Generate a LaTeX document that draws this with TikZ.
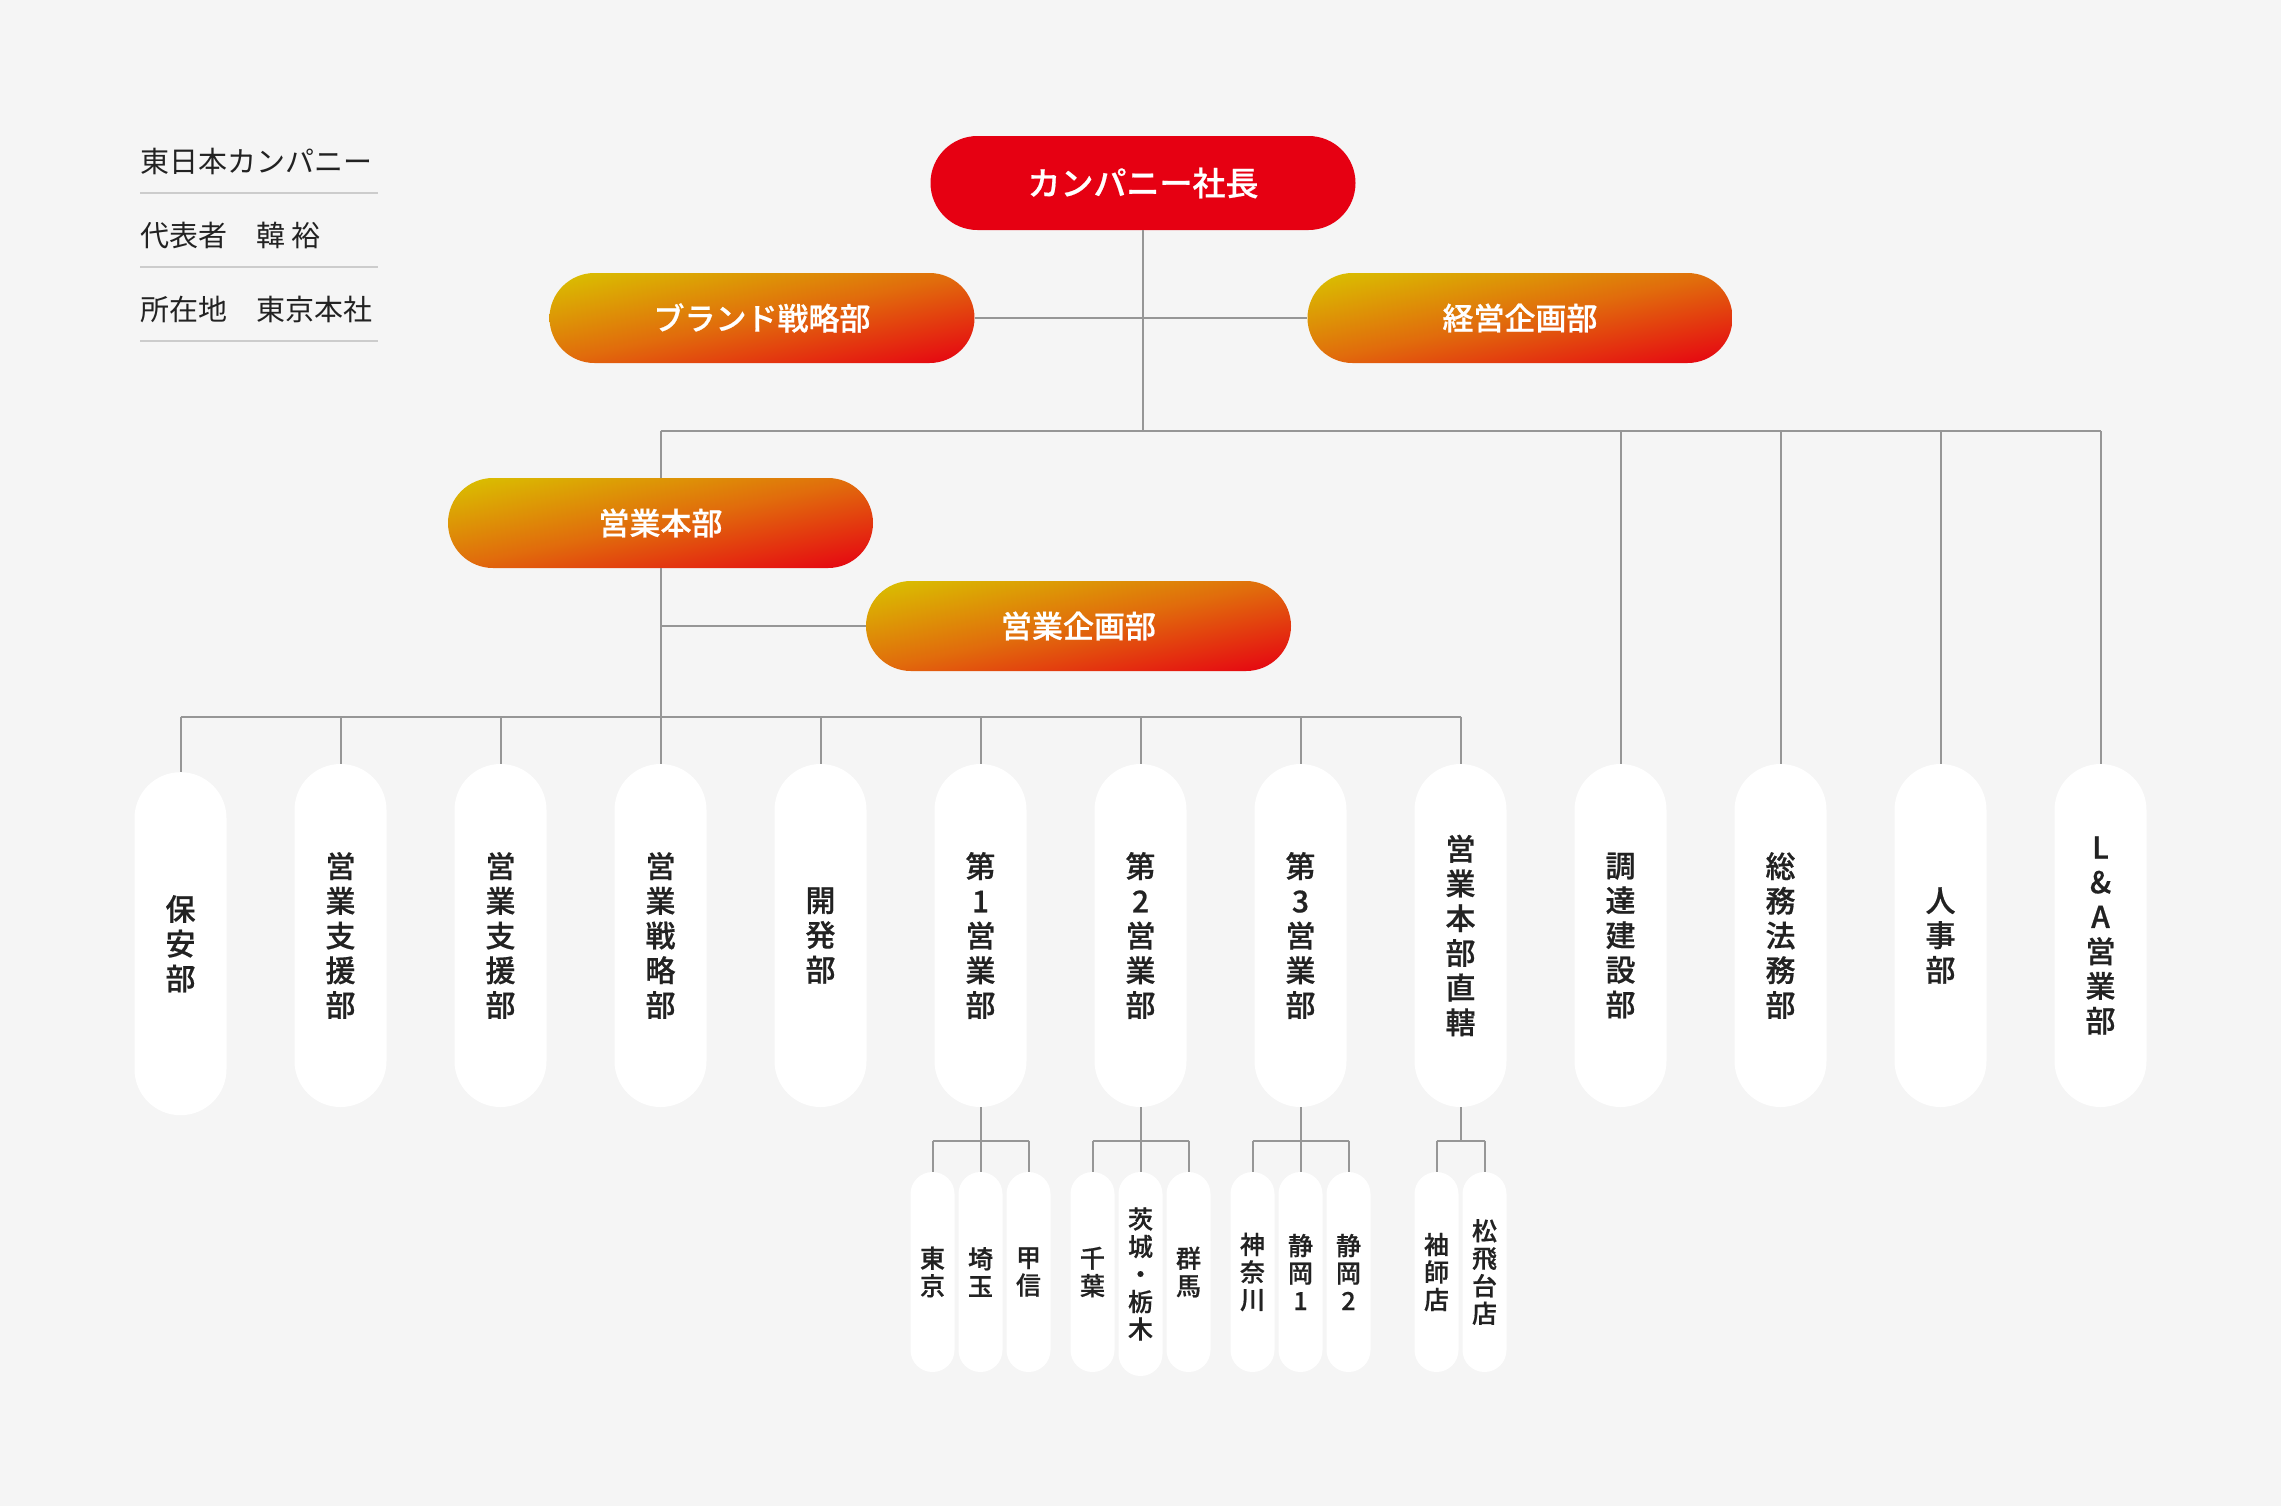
\documentclass[tikz,border=0pt]{standalone}
\usepackage{fontspec}
\newfontfamily\jp{Noto Sans CJK JP}
\IfFontExistsTF{Noto Sans CJK JP Medium}
  {\newfontfamily\jpbold{Noto Sans CJK JP Medium}[FakeBold=0.6]}
  {\newfontfamily\jpbold{Noto Sans CJK JP}[FakeBold=2]}
\definecolor{bg}{HTML}{F5F5F5}
\definecolor{lnc}{HTML}{969696}
\definecolor{rulec}{HTML}{CCCCCC}
\definecolor{txt}{HTML}{222222}
\definecolor{cred}{HTML}{E60012}
% diagonal gradient: yellow (top left) -> orange (anti-diagonal) -> red (bottom right)
\pgfdeclarefunctionalshading{pillgrad}{\pgfpoint{-50bp}{-50bp}}{\pgfpoint{50bp}{50bp}}{}{
  sub 50 add 100 div
  dup 0.5 sub abs
  1 index 0.051 mul 0.8565 add 1 index -0.011 mul add
  2 index -0.765 mul 0.8025 add 2 index -0.075 mul add
  3 index 0.071 mul 0.0115 add 3 index -0.023 mul add
  5 -2 roll pop pop
}
\tikzset{
  toppill/.style={fill=cred, text=white, rounded corners=23.5pt, minimum width=212.5pt, minimum height=47pt, inner sep=0pt, font=\jpbold\fontsize{16.5}{18}\selectfont},
  grpill/.style={shade, shading=pillgrad, draw=none, text=white, rounded corners=22.5pt, minimum width=212.5pt, minimum height=45pt, inner sep=0pt, font=\jpbold\fontsize{15.5}{17}\selectfont},
  vpill/.style={fill=white, text=txt, rounded corners=23pt, minimum width=46pt, minimum height=171.5pt, inner sep=0pt, align=center, font=\jpbold\fontsize{15}{17.35}\selectfont},
  spill/.style={fill=white, text=txt, rounded corners=11pt, minimum width=22pt, minimum height=100pt, inner sep=0pt, align=center, font=\jpbold\fontsize{12.5}{13.75}\selectfont},
  conn/.style={draw=lnc, line width=1pt},
  infotext/.style={anchor=west, inner sep=0pt, text=txt, font=\jp\fontsize{14.5}{16}\selectfont},
  inforule/.style={draw=rulec, line width=1pt}
}
\begin{document}
\begin{tikzpicture}[x=0.5pt, y=-0.5pt]
\fill[bg] (0,0) rectangle (2281,1506);
\useasboundingbox (0,0) rectangle (2281,1506);

% left info
\node[infotext] (i1) at (140,161) {東日本カンパニー};
\node[infotext] (i2) at (140,235) {代表者　韓 裕};
\node[infotext] (i3) at (140,309.5) {所在地　東京本社};
\draw[inforule] (140,192.7) -- (378,192.7);
\draw[inforule] (140,266.7) -- (378,266.7);
\draw[inforule] (140,340.7) -- (378,340.7);

% bus coordinates
\coordinate (busL) at (660.5,431);
\coordinate (busR) at (2100.5,431);
\coordinate (bus2L) at (180.5,716.5);
\coordinate (bus2R) at (1460.5,716.5);

% top pills
\node[toppill] (top) at (1143,183) {カンパニー社長};
\node[grpill] (brand) at (762,318) {ブランド戦略部};
\node[grpill] (keiei) at (1520,318) {経営企画部};

% connectors (top)
\draw[conn] (top.south) -- (top.south |- busL);
\draw[conn] (brand.east) -- (keiei.west);
\draw[conn] (busL) -- (busR);

\node[grpill] (honbu) at (660.5,523) {営業本部};
\node[grpill] (kikaku) at (1078.5,626) {営業企画部};
\draw[conn] (busL) -- (honbu.north);
\draw[conn] (honbu.south) -- (honbu.south |- bus2L);
\draw[conn] (honbu.south |- kikaku.west) -- (kikaku.west);
\draw[conn] (bus2L) -- (bus2R);

% department pills
\node[vpill] (p0) at (180.5,943.7) {保\\安\\部};
\node[vpill] (p1) at (340.5,935.5) {営\\業\\支\\援\\部};
\node[vpill] (p2) at (500.5,935.5) {営\\業\\支\\援\\部};
\node[vpill] (p3) at (660.5,935.5) {営\\業\\戦\\略\\部};
\node[vpill] (p4) at (820.5,935.5) {開\\発\\部};
\node[vpill] (p5) at (980.5,935.5) {第\\1\\営\\業\\部};
\node[vpill] (p6) at (1140.5,935.5) {第\\2\\営\\業\\部};
\node[vpill] (p7) at (1300.5,935.5) {第\\3\\営\\業\\部};
\node[vpill] (p8) at (1460.5,935.5) {営\\業\\本\\部\\直\\轄};
\node[vpill] (p9) at (1620.5,935.5) {調\\達\\建\\設\\部};
\node[vpill] (p10) at (1780.5,935.5) {総\\務\\法\\務\\部};
\node[vpill] (p11) at (1940.5,935.5) {人\\事\\部};
\node[vpill] (p12) at (2100.5,935.5) {L\\\&\\A\\営\\業\\部};

\foreach \k in {0,...,8}{\draw[conn] (p\k.north |- bus2L) -- (p\k.north);}
\foreach \k in {9,...,12}{\draw[conn] (p\k.north |- busL) -- (p\k.north);}

% sub pills
\node[spill] (s51) at (932.5,1272) {東\\京};
\node[spill] (s52) at (980.5,1272) {埼\\玉};
\node[spill] (s53) at (1028.5,1272) {甲\\信};
\node[spill] (s61) at (1092.5,1272) {千\\葉};
\node[spill, minimum height=102pt] (s62) at (1140.5,1274) {茨\\城\\・\\栃\\木};
\node[spill] (s63) at (1188.5,1272) {群\\馬};
\node[spill] (s71) at (1252.5,1272) {神\\奈\\川};
\node[spill] (s72) at (1300.5,1272) {静\\岡\\1};
\node[spill] (s73) at (1348.5,1272) {静\\岡\\2};
\node[spill] (s81) at (1436.5,1272) {袖\\師\\店};
\node[spill] (s82) at (1484.5,1272) {松\\飛\\台\\店};

\coordinate (b5) at (980.5,1140.7);
\coordinate (b6) at (1140.5,1140.7);
\coordinate (b7) at (1300.5,1140.7);
\coordinate (b8) at (1460.5,1140.7);

\draw[conn] (p5.south) -- (b5);
\draw[conn] (s51.north |- b5) -- (s53.north |- b5);
\foreach \s in {s51,s52,s53}{\draw[conn] (\s.north |- b5) -- (\s.north);}
\draw[conn] (p6.south) -- (b6);
\draw[conn] (s61.north |- b6) -- (s63.north |- b6);
\foreach \s in {s61,s62,s63}{\draw[conn] (\s.north |- b6) -- (\s.north);}
\draw[conn] (p7.south) -- (b7);
\draw[conn] (s71.north |- b7) -- (s73.north |- b7);
\foreach \s in {s71,s72,s73}{\draw[conn] (\s.north |- b7) -- (\s.north);}
\draw[conn] (p8.south) -- (b8);
\draw[conn] (s81.north |- b8) -- (s82.north |- b8);
\foreach \s in {s81,s82}{\draw[conn] (\s.north |- b8) -- (\s.north);}
\end{tikzpicture}
\end{document}
